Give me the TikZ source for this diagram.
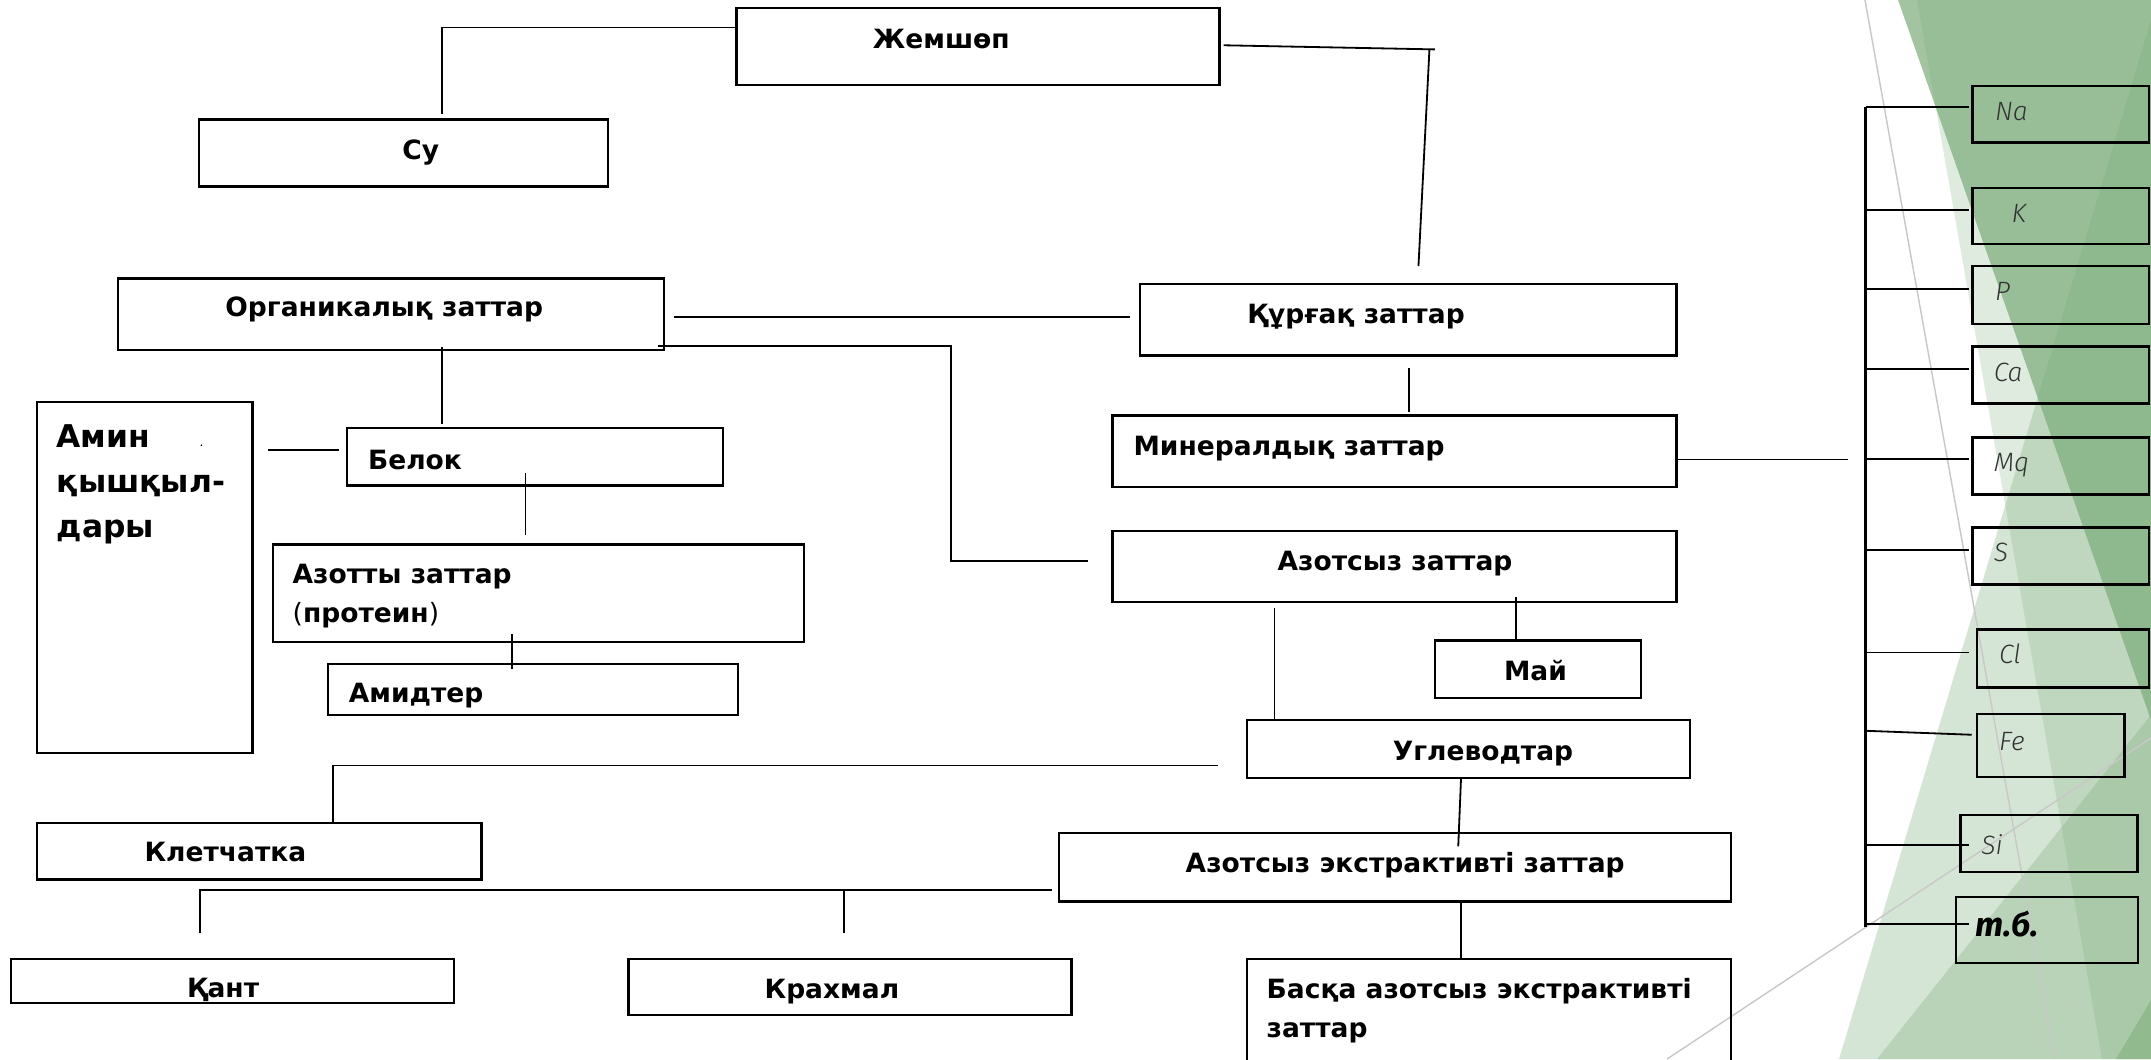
\documentclass[tikz,border=0pt]{standalone}
\usepackage{fontspec}
\setmainfont{DejaVu Sans}
\newfontfamily\elemfont{Fira Sans}[UprightFont={* Light Italic}, BoldFont={* Bold Italic}]
\usetikzlibrary{fit}
\definecolor{facet}{RGB}{120,170,118}
\definecolor{facetline}{RGB}{200,200,200}
\tikzset{
  blk/.style={draw, line width=1pt, inner sep=0pt},
  lbl/.style={anchor=base west, inner sep=0pt, font=\fontsize{11}{18.8}\selectfont\bfseries},
  elem/.style={anchor=base west, inner sep=0pt, text=black!80, font=\fontsize{11}{13}\selectfont\elemfont},
  lnk/.style={line width=0.75pt},
}
\begin{document}
\begin{tikzpicture}[x=0.02cm, y=-0.02cm]
\useasboundingbox (0,0) rectangle (1568,772);
% background facets
\fill[facet, opacity=0.69] (1383.6,0) -- (1568,0) -- (1568,525) -- cycle;
\fill[facet, opacity=0.23] (1397.4,0) -- (1568,0) -- (1568,772) -- (1532.3,772) -- cycle;
\fill[facet, opacity=0.31] (1340.6,772) -- (1568,14.6) -- (1568,772) -- cycle;
\fill[facet, opacity=0.30] (1368.3,772) -- (1568,521) -- (1568,772) -- cycle;
\fill[facet, opacity=0.5] (1542.5,772) -- (1568,729) -- (1568,772) -- cycle;
\draw[facetline, line width=0.6pt] (1359.5,0) -- (1498,772) (1215.2,772) -- (1568,538);

% boxes
\node[blk, fit={(537,6) (889,62)}] (jem) {};
\node[blk, fit={(145,87) (443,136)}] (su) {};
\node[blk, fit={(86,203) (484,255)}] (org) {};
\node[blk, fit={(831,207) (1222,259)}] (kur) {};
\node[blk, fit={(811,303) (1222,355)}] (min) {};
\node[blk, fit={(27,293) (184,549)}] (amin) {};
\node[blk, fit={(253,312) (527,354)}] (belok) {};
\node[blk, fit={(199,397) (586,468)}] (azot) {};
\node[blk, fit={(239,484) (538,521)}] (amid) {};
\node[blk, fit={(811,387) (1222,439)}] (azsyz) {};
\node[blk, fit={(1046,467) (1196,509)}] (mai) {};
\node[blk, fit={(909,525) (1232,567)}] (ugl) {};
\node[blk, fit={(27,600) (351,641)}] (klet) {};
\node[blk, fit={(772,607) (1262,657)}] (aze) {};
\node[blk, fit={(8,699) (331,731)}] (kant) {};
\node[blk, fit={(458,699) (781,740)}] (krah) {};
\node[blk, fit={(909,699) (1262,790)}] (baska) {};

% labels (multi-line nodes sit on their last baseline)
\node[lbl] (jem-t) at (636,35) {Жемшөп};
\node[lbl] (su-t) at (293,116) {Су};
\node[lbl] (org-t) at (164,231) {Органикалық заттар};
\node[lbl] (kur-t) at (909,236) {Құрғақ заттар};
\node[lbl] (min-t) at (826,332) {Минералдық заттар};
\node[lbl, align=left, font=\fontsize{13}{18.8}\selectfont\bfseries] (amin-t) at (41,392) {Амин\\қышқыл-\\дары};
\node[inner sep=0pt, font=\fontsize{5}{5}\selectfont] (amin-dot) at (147,325) {.};
\node[lbl] (belok-t) at (268,342) {Белок};
\node[lbl, align=left, font=\fontsize{11}{16.5}\selectfont\bfseries] (azot-t) at (213,454) {Азотты заттар\\{\mdseries(}протеин{\mdseries)}};
\node[lbl] (amid-t) at (254,512) {Амидтер};
\node[lbl] (azsyz-t) at (931,416) {Азотсыз заттар};
\node[lbl] (mai-t) at (1096,496) {Май};
\node[lbl] (ugl-t) at (1015,554) {Углеводтар};
\node[lbl] (klet-t) at (105,628) {Клетчатка};
\node[lbl] (aze-t) at (864,636) {Азотсыз экстрактивті заттар};
\node[lbl] (kant-t) at (136,727) {Қант};
\node[lbl] (krah-t) at (557,728) {Крахмал};
\node[lbl, align=left, font=\fontsize{11}{15.9}\selectfont\bfseries] (baska-t) at (923,756) {Басқа азотсыз экстрактивті\\заттар};

% mineral elements
\foreach \n/\a/\b/\c/\d in {na/1438/62.5/1566.5/104, k/1438/137/1566.5/178,
    p/1438/194/1566.5/236, ca/1438/252.5/1566.5/294, mq/1438/319/1566.5/360.5,
    s/1438/384.5/1566.5/426, cl/1441/459/1566.5/501, fe/1441/520.5/1548.6/566.5,
    si/1429/594/1558/635.5, tb/1426/654/1558.3/702}
  \node[blk, fit={(\a,\b) (\c,\d)}] (\n) {};
\foreach \n/\t/\x/\y in {na/Na/1454/88, k/K/1466/162, p/P/1454/219, ca/Ca/1453/278,
    mq/Mq/1453/344, s/S/1453/409, cl/Cl/1457/484, fe/Fe/1457/547, si/Si/1444/623}
  \node[elem] (\n-t) at (\x,\y) {\t};
\node[elem, text=black, font=\fontsize{14}{16}\selectfont\elemfont] (tb-t) at (1440,683) {\bfseries т.б.};

% connectors
\coordinate (su-in) at (322,83);
\draw[lnk] (jem.west |- 0,20) -| (su-in);
\coordinate (kur-a) at (1046,36);
\coordinate (kur-b) at (1042,36);
\coordinate (kur-in) at (1034,194);
\draw[lnk] (892,33) -- (kur-a);
\draw[lnk] (kur-b) -- (kur-in);
\draw[lnk] (491,231) -- (824,231);
\coordinate (azsyz-in) at (793,409);
\draw[lnk] (480,252) -- (693,252) |- (azsyz-in);
\draw[lnk] (322,253) -- (322,309);
\draw[lnk] (1027,268) -- (1027,300);
\draw[lnk] (min.east |- 0,335) -- (1347,335);
\coordinate (bar-top) at (1360,77.8);
\coordinate (bar-bot) at (1360,675.5);
\draw[line width=1pt] (bar-top) -- (bar-bot);
\foreach \y in {77.8,153,210.7,268.8,334.8,401,475.6,615.9,673.5}
  \draw[lnk] (1360,\y) -- (1435,\y);
\draw[lnk] (1360,532.7) -- (1437.3,535.6);
\draw[lnk] (195,328) -- (247,328);
\draw[lnk] (383,345) -- (383,390);
\draw[lnk] (373,462) -- (373,488);
\draw[lnk] (1105,435) -- (1105,466);
\draw[lnk] (929,443) -- (ugl.north -| 929,0);
\coordinate (klet-in) at (243,599);
\draw[lnk] (888,558) -| (klet-in);
\draw[lnk] (ugl.south -| 1065,0) -- (1063,617);
\coordinate (kant-in) at (146,680);
\coordinate (krah-in) at (615,680);
\draw[lnk] (767,649) -| (kant-in);
\draw[lnk] (615,649) -- (krah-in);
\draw[lnk] (aze.south -| 1065,0) -- (baska.north -| 1065,0);
\end{tikzpicture}
\end{document}
